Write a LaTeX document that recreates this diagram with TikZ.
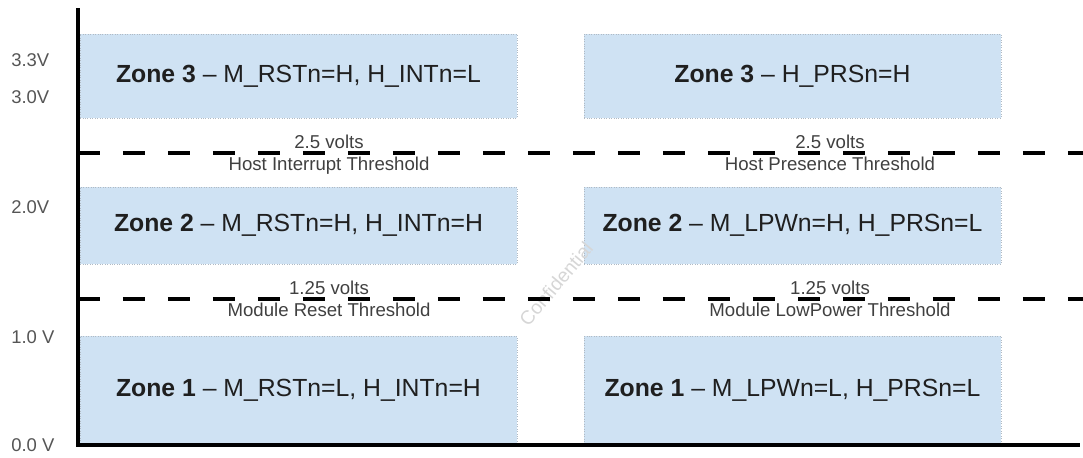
\documentclass[tikz,border=0pt]{standalone}
\usepackage{fontspec}
\setmainfont{Liberation Sans}
\usepackage{tikz}
\usetikzlibrary{positioning}
\definecolor{zoneblue}{HTML}{CFE2F3}
\definecolor{zoneedge}{HTML}{B0BAC4}
\definecolor{axisgrey}{HTML}{555555}
\definecolor{threshgrey}{HTML}{404040}
\definecolor{markgrey}{HTML}{D6D6D6}

\begin{document}
\begin{tikzpicture}[x=0.02cm,y=-0.02cm,
  zone/.style={draw=zoneedge,densely dotted,fill=zoneblue,inner sep=0pt,
               font=\fontsize{14.1}{16}\selectfont,text=black!88},
  lbl/.style={font=\fontsize{10.6}{12}\selectfont,text=threshgrey,inner sep=0pt},
  vlbl/.style={font=\fontsize{10.5}{12}\selectfont,text=axisgrey,anchor=west,inner sep=0pt},
  thresh/.style={line width=2.1pt,dash pattern=on 0.44cm off 0.46cm},
  axis/.style={line width=2pt}
]
\useasboundingbox (0,0) rectangle (1083,457);

\node[zone,minimum width=8.74cm,minimum height=1.68cm] (rst3) at (298.5,76)
     {\bfseries Zone 3\mdseries{} -- M\_RSTn=H, H\_INTn=L\hspace{0.4cm}};
\node[zone,minimum width=8.74cm,minimum height=1.54cm] (rst2) at (298.5,225.5)
     {\bfseries Zone 2\mdseries{} -- M\_RSTn=H, H\_INTn=H};
\node[zone,minimum width=8.74cm,minimum height=2.18cm] (rst1) at (298.5,390.5)
     {\bfseries Zone 1\mdseries{} -- M\_RSTn=L, H\_INTn=H\hspace{0.4cm}};
\node[zone,minimum width=8.34cm,minimum height=1.68cm] (prs3) at (792.5,76)
     {\bfseries Zone 3\mdseries{} -- H\_PRSn=H\hspace{0.2cm}};
\node[zone,minimum width=8.34cm,minimum height=1.54cm] (prs2) at (792.5,225.5)
     {\bfseries Zone 2\mdseries{} -- M\_LPWn=H, H\_PRSn=L};
\node[zone,minimum width=8.34cm,minimum height=2.18cm] (prs1) at (792.5,390.5)
     {\bfseries Zone 1\mdseries{} -- M\_LPWn=L, H\_PRSn=L\hspace{0.15cm}};

\node[font=\fontsize{11}{13}\selectfont,text=markgrey,rotate=50] (mark) at (556,284)
     {Confidential};

\coordinate (hiW) at (78,153);
\coordinate (hiE) at (1083,153);
\coordinate (loW) at (78,299);
\coordinate (loE) at (1083,299);
\draw[thresh] (hiW) -- (hiE);
\draw[thresh] (loW) -- (loE);

\coordinate (top) at (78,8);
\coordinate (origin) at (78,445);
\coordinate (xend) at (1080,445);
\draw[axis] (top) -- (origin) -- (xend);

\coordinate (hiL) at (329,153);
\coordinate (hiR) at (830,153);
\coordinate (loL) at (329,299);
\coordinate (loR) at (830,299);
\node[lbl,above=2pt of hiL] (hivL) {2.5 volts};
\node[lbl,below=2pt of hiL] (hitL) {Host Interrupt Threshold};
\node[lbl,above=2pt of hiR] (hivR) {2.5 volts};
\node[lbl,below=2pt of hiR] (hitR) {Host Presence Threshold};
\node[lbl,above=2pt of loL] (lovL) {1.25 volts};
\node[lbl,below=2pt of loL] (lotL) {Module Reset Threshold};
\node[lbl,above=2pt of loR] (lovR) {1.25 volts};
\node[lbl,below=2pt of loR] (lotR) {Module LowPower Threshold};

\node[vlbl] (v33) at (11,60) {3.3V};
\node[vlbl] (v30) at (11,97) {3.0V};
\node[vlbl] (v20) at (11,207) {2.0V};
\node[vlbl] (v10) at (11,337) {1.0 V};
\node[vlbl] (v00) at (11,445) {0.0 V};
\end{tikzpicture}
\end{document}
